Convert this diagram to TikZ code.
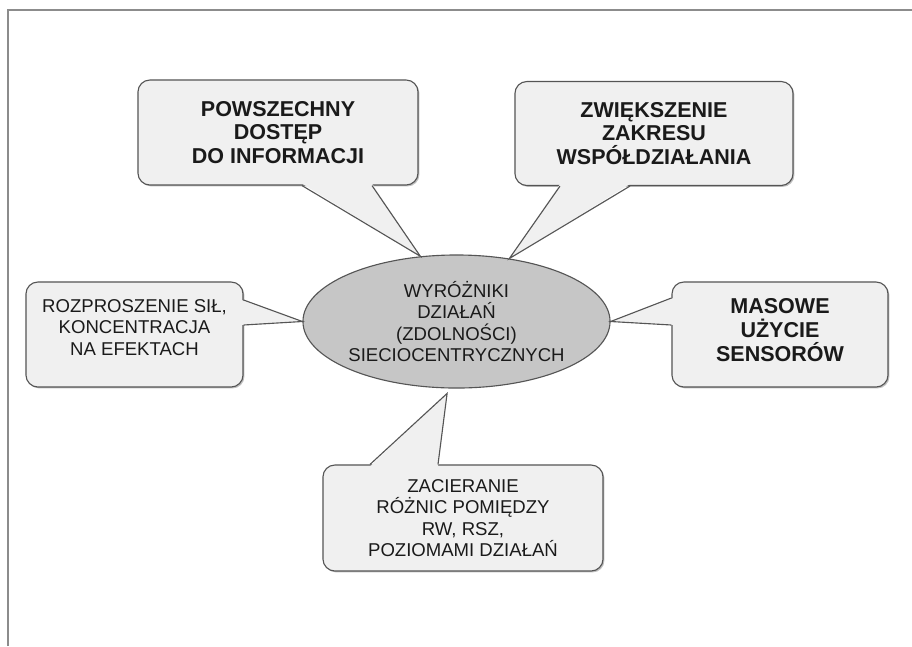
\documentclass[tikz,border=0pt]{standalone}
\usepackage{fontspec}
\setmainfont{Liberation Sans}
\usetikzlibrary{shapes.geometric,calc,shadows}
\definecolor{bbLine}{HTML}{555555}
\definecolor{bbFill}{HTML}{F0F0F0}
\definecolor{bbHub}{HTML}{C6C6C6}
\definecolor{bbFrame}{HTML}{8C8C8C}
\definecolor{bbText}{HTML}{1A1A1A}
\tikzset{
    bubble/.style={
        draw=bbLine,line width=0.8pt,rounded corners=8.5pt,fill=bbFill,
        align=center,text=bbText,inner sep=0pt,
        drop shadow={shadow xshift=1pt,shadow yshift=-1pt,fill=black,opacity=0.25}
    },
    hub/.style={
        ellipse,draw=bbLine,line width=0.8pt,fill=bbHub,
        align=center,text=bbText,inner sep=0pt
    },
    bigtext/.style={font=\fontsize{15.3}{17}\selectfont\bfseries},
    smalltext/.style={font=\fontsize{13.2}{15.3}\selectfont},
    beak/.style={draw=bbLine,line width=0.8pt,line join=miter},
    beakfill/.style={fill=bbFill}
}

\begin{document}
\begin{tikzpicture}[x=0.025cm,y=-0.025cm]
\useasboundingbox (0,0) rectangle (912,646);

% frame
\draw[bbFrame,line width=1pt] (8,646) -- (8,10) -- (912,10);

% bubbles
\node[bubble,bigtext,minimum width=7cm,minimum height=2.625cm]
at (278,132.5) (access)
{POWSZECHNY\\DOSTĘP\\DO INFORMACJI};

\node[bubble,bigtext,minimum width=6.95cm,minimum height=2.6cm]
at (654,133.5) (coop)
{ZWIĘKSZENIE\\ZAKRESU\\WSPÓŁDZIAŁANIA};

\node[bubble,smalltext,minimum width=5.425cm,minimum height=2.625cm,text depth=10pt]
at (134.5,334.5) (disp)
{ROZPROSZENIE SIŁ,\\KONCENTRACJA\\NA EFEKTACH};

\node[bubble,bigtext,minimum width=5.4cm,minimum height=2.625cm,text depth=7pt]
at (780,334.5) (sensors)
{MASOWE\\UŻYCIE\\SENSORÓW};

\node[bubble,smalltext,minimum width=7cm,minimum height=2.65cm]
at (463,518) (blur)
{ZACIERANIE\\RÓŻNIC POMIĘDZY\\RW, RSZ,\\POZIOMAMI DZIAŁAŃ};

% centre
\node[hub,smalltext,minimum width=7.675cm,minimum height=3.325cm]
at (456.5,321.5) (core)
{WYRÓŻNIKI\\DZIAŁAŃ\\(ZDOLNOŚCI)\\SIECIOCENTRYCZNYCH};

% pointers
\fill[beakfill] ($(access.south)+(24,-2)$) -- (core.119) -- ($(access.south)+(94,-2)$) -- cycle;
\draw[beak] ($(access.south)+(24,0)$) -- (core.119) -- ($(access.south)+(94,0)$);

\fill[beakfill] ($(coop.south)+(-94,-2)$) -- (core.50) -- ($(coop.south)+(-24,-2)$) -- cycle;
\draw[beak] ($(coop.south)+(-94,0)$) -- (core.50) -- ($(coop.south)+(-24,0)$);

\fill[beakfill] ($(disp.east)+(-2,-34.5)$) -- (core.180) -- ($(disp.east)+(-2,-9.5)$) -- cycle;
\draw[beak] ($(disp.east)+(0,-34.5)$) -- (core.180) -- ($(disp.east)+(0,-9.5)$);

\fill[beakfill] ($(sensors.west)+(2,-36.5)$) -- (core.0) -- ($(sensors.west)+(2,-9.5)$) -- cycle;
\draw[beak] ($(sensors.west)+(0,-36.5)$) -- (core.0) -- ($(sensors.west)+(0,-9.5)$);

\coordinate (blurtip) at ($(core.262)+(0,5)$);
\fill[beakfill] ($(blur.north)+(-93,2)$) -- (blurtip) -- ($(blur.north)+(-25,2)$) -- cycle;
\draw[beak] ($(blur.north)+(-93,0)$) -- (blurtip) -- ($(blur.north)+(-25,0)$);

\end{tikzpicture}
\end{document}
